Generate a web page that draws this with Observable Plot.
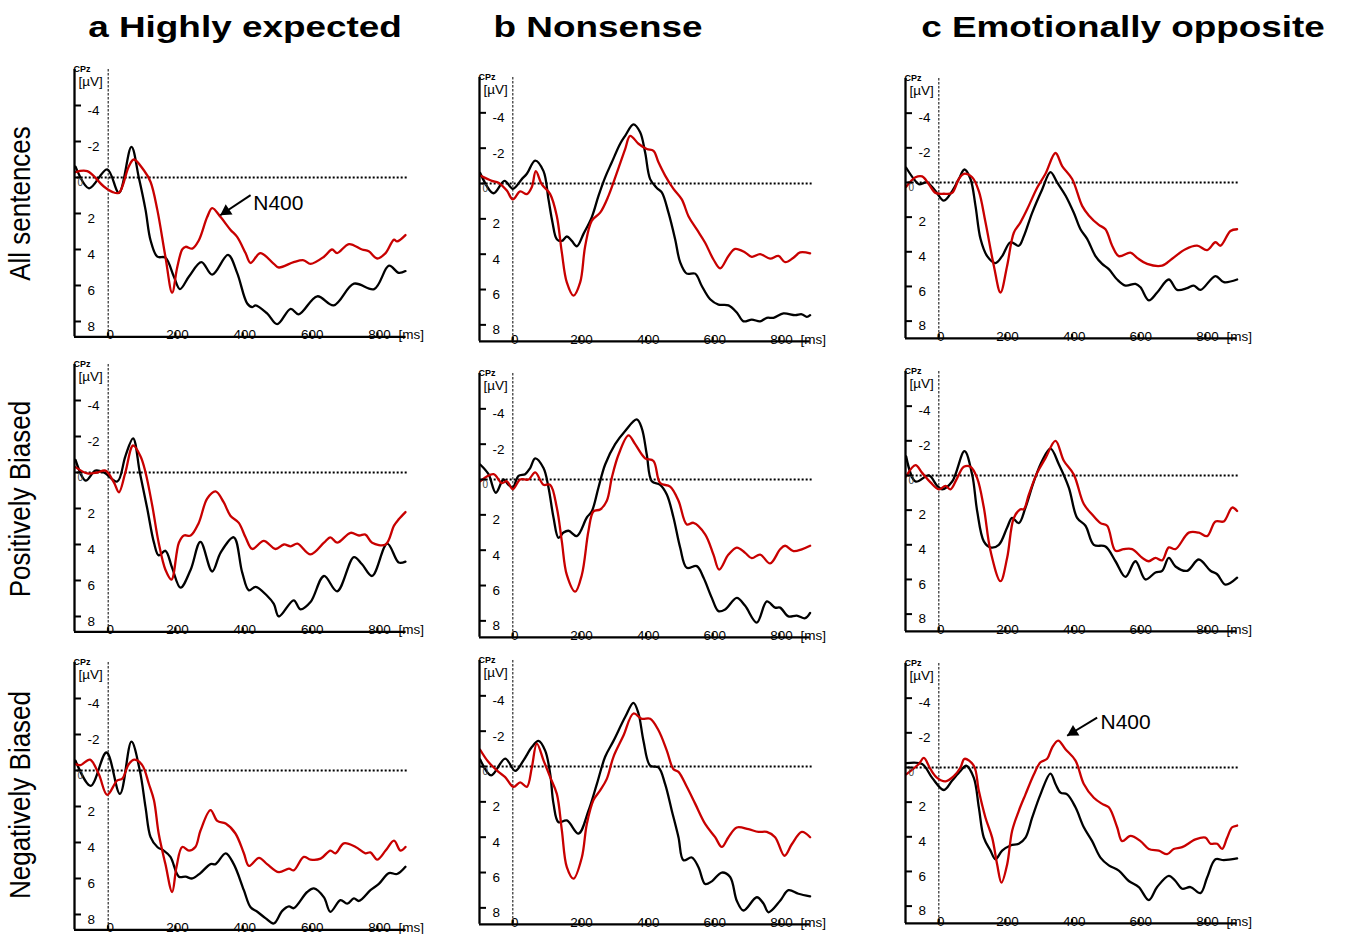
<!DOCTYPE html>
<html><head><meta charset="utf-8">
<script src="https://cdn.jsdelivr.net/npm/d3@7"></script>
<script src="https://cdn.jsdelivr.net/npm/@observablehq/plot@0.6"></script>
<style>
body{margin:0;background:#fff;}
#root{position:relative;width:1345px;height:934px;overflow:hidden;background:#fff;font-family:"Liberation Sans",Arial,sans-serif;}
#root svg{position:absolute;}
</style></head><body><div id="root"></div>
<script>
// ---------- text ----------
const columnTitles = ["a Highly expected", "b Nonsense", "c Emotionally opposite"];
const rowLabels = ["All sentences", "Positively Biased", "Negatively Biased"];
const yTicks = [-4, -2, 2, 4, 6, 8];
const xTicks = [0, 200, 400, 600, 800];
const annotationText = "N400";

// ---------- data: [time ms, amplitude µV] (CPz) ----------
// a) Highly expected
const a1Black = [[-97,-0.6],[-57,0.6],[-3,-0.45],[32,0.85],[69,-1.7],[91,0],[111,1.8],[126,3.5],[146,4.4],[170,4.45],[195,5.5],[213,6.2],[240,5.5],[277,4.7],[309,5.4],[356,4.3],[383,5.3],[413,7.0],[428,7.2],[438,7.1],[472,7.55],[502,8.15],[542,7.3],[566,7.6],[621,6.6],[670,7.1],[730,5.9],[790,6.2],[834,4.9],[863,5.3],[883,5.2]];
const a1Red = [[-97,-0.3],[-62,-0.35],[-13,0.5],[12,0.8],[32,0.85],[61,-0.6],[76,-1.0],[106,-0.4],[126,0.25],[146,1.8],[170,4.4],[190,6.4],[205,5.0],[220,4.0],[230,3.85],[250,3.95],[269,3.5],[294,2.2],[309,1.7],[334,2.2],[363,2.9],[383,3.3],[408,4.2],[423,4.75],[452,4.2],[492,4.8],[507,5.0],[551,4.7],[581,4.6],[601,4.8],[641,4.4],[665,4.0],[680,4.2],[715,3.7],[754,4.0],[774,4.1],[799,4.5],[824,4.2],[849,3.45],[858,3.55],[883,3.2]];
const a2Black = [[-97,-0.7],[-67,0.45],[-38,-0.1],[-13,0],[27,0.5],[51,-0.9],[74,-1.9],[94,0],[116,2.0],[136,3.9],[150,4.6],[170,4.35],[190,5.3],[215,6.4],[245,5.4],[274,3.85],[309,5.5],[334,4.45],[373,3.6],[398,5.55],[418,6.55],[438,6.35],[472,6.85],[492,7.3],[507,8.0],[551,7.1],[571,7.6],[601,7.2],[641,5.75],[680,6.6],[730,4.7],[754,5.1],[784,5.75],[829,3.95],[863,5.0],[883,4.95]];
const a2Red = [[-97,-0.3],[-62,0.05],[-33,0],[-8,-0.1],[17,0.55],[32,1.1],[51,0],[74,-1.5],[96,-0.9],[111,0],[131,1.85],[150,3.9],[170,5.4],[188,5.95],[210,3.9],[225,3.5],[245,3.5],[269,2.8],[294,1.45],[319,1.05],[343,1.65],[363,2.4],[388,2.8],[408,3.6],[428,4.25],[462,3.8],[497,4.25],[522,4.0],[542,4.1],[562,3.95],[601,4.55],[641,3.9],[660,3.6],[680,3.9],[720,3.35],[745,3.5],[764,3.45],[784,3.9],[824,4.0],[849,2.95],[863,2.6],[883,2.2]];
const a3Black = [[-97,-0.55],[-52,0.85],[-5,-1.0],[35,1.3],[69,-1.6],[94,0],[111,2.05],[126,3.7],[146,4.25],[165,4.45],[185,4.8],[210,5.9],[230,5.9],[250,6.0],[274,5.7],[304,5.2],[319,5.2],[349,4.6],[373,5.2],[403,6.65],[423,7.6],[443,7.85],[467,8.2],[492,8.5],[517,7.8],[537,7.55],[551,7.65],[591,6.75],[611,6.55],[641,7.05],[660,7.85],[690,7.2],[710,7.4],[730,7.1],[745,7.25],[779,6.65],[804,6.3],[834,5.7],[858,5.75],[883,5.35]];
const a3Red = [[-97,-0.35],[-82,-0.3],[-54,-0.6],[-28,0.2],[-3,1.35],[27,0.55],[42,0.45],[61,-0.35],[78,-0.6],[101,-0.3],[121,0.75],[136,1.65],[150,3.5],[170,5.2],[190,6.75],[203,5.35],[220,4.25],[240,4.45],[259,4.25],[274,3.35],[304,2.2],[324,2.8],[349,2.95],[378,3.5],[403,4.6],[418,5.3],[448,4.85],[472,5.2],[507,5.65],[537,5.45],[551,5.55],[581,4.8],[601,4.95],[631,4.9],[660,4.45],[675,4.6],[700,4.05],[735,4.25],[764,4.6],[779,4.55],[799,4.95],[824,4.45],[849,3.9],[868,4.45],[883,4.25]];
// b) Nonsense
const b1Black = [[-98,-0.6],[-58,0.55],[-25,-0.15],[0,0.3],[27,-0.25],[42,-0.55],[67,-1.3],[92,-0.7],[107,0.9],[119,2.2],[132,3.15],[147,3.25],[162,3.0],[177,3.25],[192,3.55],[212,2.85],[237,1.9],[257,0.7],[277,-0.35],[297,-1.2],[322,-2.25],[337,-2.7],[362,-3.35],[382,-2.9],[397,-1.75],[412,-0.25],[432,0.25],[447,0.5],[467,1.65],[487,3.15],[502,4.45],[522,5.1],[547,5.1],[567,5.8],[592,6.55],[617,6.85],[647,6.9],[672,7.3],[692,7.8],[717,7.7],[742,7.8],[762,7.6],[782,7.6],[812,7.35],[847,7.45],[867,7.4],[882,7.55],[892,7.45]];
const b1Red = [[-98,-0.45],[-63,-0.15],[-43,-0.05],[-18,0.4],[0,0.9],[22,0.45],[42,0.6],[57,0.2],[69,-0.7],[87,0.05],[112,0.6],[132,1.85],[147,3.9],[162,5.6],[182,6.35],[202,5.6],[217,3.55],[237,2.1],[262,1.65],[287,0.7],[312,-0.6],[337,-1.95],[352,-2.7],[377,-2.25],[402,-1.95],[422,-1.85],[437,-1.2],[457,-0.45],[482,0.3],[507,0.9],[527,1.85],[552,2.6],[577,3.35],[602,4.3],[622,4.8],[647,4.1],[667,3.7],[697,3.9],[717,4.15],[742,4.0],[772,4.25],[797,4.1],[817,4.45],[842,4.2],[862,3.9],[892,3.95]];
const b2Black = [[-98,-0.85],[-73,-0.3],[-51,0.75],[-28,0],[-13,0.3],[0,0.45],[17,-0.2],[37,-0.3],[52,-0.65],[67,-1.2],[92,-0.65],[107,0.45],[122,2.15],[137,3.3],[152,3.0],[167,2.9],[192,3.2],[222,2.15],[237,1.8],[257,0.45],[277,-0.85],[307,-2.0],[337,-2.75],[372,-3.4],[387,-2.9],[402,-1.4],[417,0.1],[442,0.3],[462,0.85],[482,2.15],[502,3.85],[522,5.0],[552,4.9],[572,5.55],[597,6.7],[617,7.45],[637,7.35],[672,6.7],[697,7.15],[732,8.1],[762,6.9],[787,7.25],[802,7.25],[827,7.75],[852,7.7],[877,7.85],[892,7.55]];
const b2Red = [[-98,0.1],[-58,-0.3],[-33,0.2],[-18,0.1],[0,0.55],[22,0],[47,0],[67,-0.4],[92,0.3],[112,0.3],[132,1.6],[147,3.5],[162,5.4],[187,6.35],[207,5.4],[227,2.9],[242,1.8],[262,1.7],[282,1.2],[297,-0.1],[317,-1.4],[347,-2.5],[367,-2.0],[397,-1.2],[422,-1.05],[442,0.2],[472,0.4],[497,1.2],[522,2.55],[542,2.45],[577,3.1],[602,4.25],[619,5.1],[647,4.25],[672,3.85],[697,4.15],[717,4.45],[742,4.25],[772,4.75],[802,3.95],[817,3.75],[842,4.05],[867,3.95],[892,3.75]];
const b3Black = [[-98,-0.4],[-65,0.5],[-23,-0.45],[7,0.25],[32,-0.35],[57,-1.1],[77,-1.45],[97,-0.9],[112,0.4],[122,2.1],[137,3.15],[162,3.05],[197,3.8],[227,2.5],[252,1.0],[277,-0.55],[302,-1.45],[337,-2.8],[362,-3.6],[377,-3.0],[392,-1.45],[412,-0.05],[437,0.05],[457,1.0],[477,2.5],[497,4.0],[512,5.3],[537,5.15],[557,5.7],[577,6.65],[597,6.5],[627,6.0],[652,6.25],[672,7.6],[692,8.15],[732,7.4],[752,7.75],[767,8.25],[802,7.6],[827,7.0],[857,7.2],[892,7.35]];
const b3Red = [[-98,-0.95],[-73,-0.25],[-43,0.3],[-23,0.6],[2,1.15],[22,0.9],[42,1.15],[57,0.05],[72,-1.3],[92,-0.35],[112,0.6],[132,1.55],[147,3.6],[162,5.7],[182,6.35],[207,5.15],[222,3.25],[242,1.9],[262,1.35],[282,0.7],[302,-0.55],[332,-1.75],[362,-3.0],[387,-2.7],[412,-2.7],[437,-2.05],[462,-0.9],[482,0.15],[497,0.3],[522,1.15],[547,2.1],[577,3.25],[607,4.0],[627,4.55],[647,4.0],[672,3.45],[707,3.55],[737,3.7],[762,3.7],[787,4.0],[815,5.05],[837,4.4],[867,3.7],[892,4.0]];
// c) Emotionally opposite
const c1Black = [[-98,-0.85],[-75,-0.2],[-60,0.1],[-35,0],[-10,0.5],[15,1.05],[40,0.5],[60,-0.2],[77,-0.75],[95,-0.2],[110,1.35],[125,3.25],[145,4.25],[170,4.65],[190,4.25],[215,3.45],[240,3.65],[255,3.1],[280,1.75],[310,0.4],[335,-0.6],[355,0],[380,0.75],[405,1.75],[425,2.7],[445,3.25],[470,4.25],[490,4.7],[510,5.0],[535,5.6],[560,5.95],[590,5.85],[605,6.05],[630,6.8],[655,6.35],[690,5.6],[715,6.2],[745,6.1],[765,5.95],[785,6.2],[830,5.4],[855,5.75],[895,5.6]];
const c1Red = [[-98,0.25],[-70,-0.3],[-50,-0.35],[-30,0.1],[-10,0.6],[15,0.65],[40,0.6],[60,-0.2],[75,-0.5],[100,-0.3],[120,0.5],[140,2.3],[165,4.8],[185,6.35],[205,4.8],[225,2.9],[245,2.3],[265,1.55],[295,0.3],[320,-0.5],[350,-1.7],[370,-0.95],[400,-0.2],[430,1.35],[450,1.9],[480,2.45],[500,2.7],[520,3.65],[540,4.25],[575,4.05],[595,4.35],[625,4.7],[670,4.8],[700,4.4],[740,3.85],[775,3.65],[805,3.9],[830,3.45],[845,3.65],[875,2.8],[895,2.7]];
const c2Black = [[-98,-1.1],[-70,0.35],[-30,0],[-5,0.6],[10,0.8],[40,0.35],[77,-1.4],[100,-0.05],[115,2.05],[135,3.8],[155,4.15],[180,4.0],[205,3.0],[220,2.45],[240,2.75],[260,1.85],[285,0.35],[310,-0.85],[335,-1.55],[360,-0.65],[390,0.7],[415,2.45],[440,2.9],[465,4.0],[500,4.1],[530,4.95],[560,5.85],[590,4.95],[620,6.0],[650,5.6],[670,5.5],[690,4.75],[710,5.25],[745,5.5],[780,4.85],[815,5.5],[835,5.7],[860,6.3],[895,5.9]];
const c2Red = [[-98,0.05],[-70,-0.6],[-50,-0.15],[-25,0.4],[0,0.8],[20,0.6],[35,0.8],[55,0.15],[75,-0.5],[95,-0.5],[115,0.15],[135,1.85],[155,4.35],[185,6.1],[205,4.75],[225,2.45],[245,1.95],[255,1.95],[270,1.1],[295,-0.15],[320,-1.0],[350,-2.0],[375,-0.85],[405,-0.05],[435,1.65],[460,2.25],[485,2.75],[505,2.9],[530,4.35],[555,4.25],[580,4.25],[610,4.75],[630,4.95],[650,4.75],[670,4.9],[690,4.15],[710,4.25],[750,3.3],[780,3.3],[805,3.5],[830,2.65],[855,2.65],[880,1.85],[895,2.05]];
const c3Black = [[-98,-0.25],[-50,-0.2],[-20,0.6],[15,1.3],[40,0.75],[65,0.2],[82,-0.1],[105,0.6],[120,2.3],[135,4.05],[155,4.8],[170,5.3],[190,4.8],[215,4.5],[240,4.4],[260,4.05],[280,2.9],[305,1.55],[335,0.35],[350,0.95],[365,1.45],[385,1.55],[410,2.3],[435,3.45],[460,4.25],[485,5.2],[510,5.65],[540,5.95],[570,6.55],[600,6.9],[630,7.65],[655,6.9],[690,6.25],[710,6.55],[730,7.0],[755,6.9],[785,7.25],[805,6.35],[830,5.3],[855,5.35],[895,5.25]];
const c3Red = [[-98,0.4],[-60,-0.2],[-45,-0.55],[-25,0.1],[-5,0.6],[20,0.8],[45,0.5],[65,0],[77,-0.5],[105,-0.1],[120,1.35],[140,2.9],[160,4.05],[175,5.6],[188,6.65],[205,5.6],[220,3.65],[240,2.5],[260,1.55],[285,0.4],[305,-0.3],[325,-0.5],[340,-1.15],[358,-1.55],[380,-1.05],[410,-0.4],[435,0.95],[465,1.75],[490,2.1],[510,2.3],[535,3.45],[550,4.25],[575,3.95],[605,4.25],[630,4.7],[660,4.8],[685,5.0],[705,4.7],[730,4.6],[770,4.15],[800,4.05],[815,4.4],[835,4.4],[850,4.7],[865,4.05],[880,3.45],[895,3.35]];

// N400 arrows: [tipTime, tipAmp, tailTime, tailAmp, labelTime, labelAmp]
const noteA1 = [333, 2.1, 423, 0.98, 431, 1.41];
const noteC3 = [385, -1.83, 475, -2.88, 485, -2.6];

// ---------- layout (pixels) ----------
const RED = "#c80000";
const FONT = "'Liberation Sans', Arial, Helvetica, sans-serif";
const colLayout = [
  {x0: 74,    pxPerMs: 0.3367, tEnd: 885, pxPerUV: 18.0,  vBottom: 8.85, tops: [69.3, 363.7, 662.0], titleX: 245},
  {x0: 479.4, pxPerMs: 0.3333, tEnd: 892, pxPerUV: 17.67, vBottom: 8.93, tops: [77.1, 372.7, 660.4], titleX: 598},
  {x0: 905,   pxPerMs: 0.3333, tEnd: 895, pxPerUV: 17.33, vBottom: 9.0,  tops: [77.9, 370.5, 662.9], titleX: 1123}
];
const rowCenters = [203.5, 499, 795];
const panels = [
  [{black: a1Black, red: a1Red, note: noteA1}, {black: b1Black, red: b1Red}, {black: c1Black, red: c1Red}],
  [{black: a2Black, red: a2Red}, {black: b2Black, red: b2Red}, {black: c2Black, red: c2Red}],
  [{black: a3Black, red: a3Red}, {black: b3Black, red: b3Red}, {black: c3Black, red: c3Red, note: noteC3}]
];

const root = document.getElementById("root");
const ML = 14, MR = 36, MT = 14, MB = 8;
const tStart = -100, vTop = -6;

function arrowMarks(note, cfg) {
  if (!note) return [];
  const [tx, ty, sx, sy, lx, ly] = note;
  // direction (pixels) tail -> tip
  const dxp = (tx - sx) * cfg.pxPerMs, dyp = (ty - sy) * cfg.pxPerUV;
  const len = Math.hypot(dxp, dyp), ux = dxp / len, uy = dyp / len;
  const rot = Math.atan2(ux, -uy) * 180 / Math.PI; // clockwise from "up"
  const back = 7;
  return [
    Plot.link([0], {x1: sx, y1: sy, x2: tx, y2: ty, stroke: "#000", strokeWidth: 2}),
    Plot.dot([0], {x: tx, y: ty, dx: -ux * back, dy: -uy * back, symbol: "triangle", r: 4.6, rotate: rot, fill: "#000", stroke: "none"}),
    Plot.text([annotationText], {x: lx, y: ly, text: d => d, textAnchor: "start", lineAnchor: "middle", fontSize: 21, fill: "#000"})
  ];
}

function panel(p, cfg, top) {
  const w = (cfg.tEnd - tStart) * cfg.pxPerMs;
  const h = (cfg.vBottom - vTop) * cfg.pxPerUV;
  const tickLen = 7 / cfg.pxPerMs;
  const svg = Plot.plot({
    width: ML + w + MR, height: MT + h + MB,
    marginLeft: ML, marginRight: MR, marginTop: MT, marginBottom: MB,
    x: {domain: [tStart, cfg.tEnd], axis: null},
    y: {domain: [vTop, cfg.vBottom], reverse: true, axis: null},
    style: {fontFamily: FONT, background: "transparent", overflow: "visible", color: "#000"},
    marks: [
      Plot.ruleX([0], {y1: vTop, y2: cfg.vBottom, stroke: "#000", strokeWidth: 1, strokeDasharray: "2.5,1.5"}),
      Plot.ruleY([0], {x1: tStart + 8, x2: cfg.tEnd + 6, stroke: "#000", strokeWidth: 2, strokeDasharray: "2,2"}),
      Plot.line(p.black, {x: d => d[0], y: d => d[1], stroke: "#000", strokeWidth: 2.3, curve: "catmull-rom"}),
      Plot.line(p.red, {x: d => d[0], y: d => d[1], stroke: RED, strokeWidth: 2.3, curve: "catmull-rom"}),
      Plot.ruleX([tStart], {y1: vTop, y2: cfg.vBottom, stroke: "#000", strokeWidth: 2.3}),
      Plot.ruleY([cfg.vBottom], {x1: tStart, x2: cfg.tEnd, stroke: "#000", strokeWidth: 2.3}),
      Plot.ruleY(yTicks.concat([0]), {x1: tStart, x2: tStart + tickLen, stroke: "#000", strokeWidth: 2}),
      Plot.text(yTicks, {x: tStart, y: d => d, text: d => String(d), dx: 13, dy: 5, textAnchor: "start", lineAnchor: "middle", fontSize: 13.5, fill: "#000"}),
      Plot.text(["0"], {x: tStart, y: 0, text: d => d, dx: 3, dy: 5, textAnchor: "start", lineAnchor: "middle", fontSize: 10, fill: "#444"}),
      Plot.ruleX(xTicks, {y1: cfg.vBottom, y2: cfg.vBottom - 4 / cfg.pxPerUV, stroke: "#000", strokeWidth: 2}),
      Plot.text(xTicks, {x: d => d, y: cfg.vBottom, text: d => String(d), dx: 2, dy: -2, textAnchor: "middle", lineAnchor: "middle", fontSize: 13.5, fill: "#000"}),
      Plot.text(["[ms]"], {x: 800, y: cfg.vBottom, text: d => d, dx: 21, dy: -2, textAnchor: "start", lineAnchor: "middle", fontSize: 13.5, fill: "#000"}),
      Plot.text(["[µV]"], {x: tStart, y: vTop, text: d => d, dx: 4, dy: 12, textAnchor: "start", lineAnchor: "middle", fontSize: 13.5, fill: "#000"}),
      Plot.text(["CPz"], {x: tStart, y: vTop, text: d => d, dx: -1, dy: 0, textAnchor: "start", lineAnchor: "middle", fontSize: 9, fontWeight: "bold", fill: "#000"}),
      ...arrowMarks(p.note, cfg)
    ]
  });
  svg.style.left = (cfg.x0 - ML) + "px";
  svg.style.top = (top - MT) + "px";
  svg.style.maxWidth = "none";
  root.appendChild(svg);
}

panels.forEach((row, r) => row.forEach((p, c) => panel(p, colLayout[c], colLayout[c].tops[r])));

// titles and row labels
const ns = "http://www.w3.org/2000/svg";
const over = document.createElementNS(ns, "svg");
over.setAttribute("width", 1345); over.setAttribute("height", 934);
over.style.left = "0px"; over.style.top = "0px"; over.style.pointerEvents = "none";
over.style.fontFamily = FONT;
columnTitles.forEach((t, i) => {
  const el = document.createElementNS(ns, "text");
  el.setAttribute("transform", `translate(${colLayout[i].titleX},37) scale(1.23,1)`);
  el.setAttribute("text-anchor", "middle");
  el.setAttribute("font-size", 30);
  el.setAttribute("font-weight", "bold");
  el.textContent = t;
  over.appendChild(el);
});
rowLabels.forEach((t, i) => {
  const el = document.createElementNS(ns, "text");
  el.setAttribute("transform", `translate(30,${rowCenters[i]}) rotate(-90) scale(1,1.12)`);
  el.setAttribute("text-anchor", "middle");
  el.setAttribute("font-size", 26);
  el.textContent = t;
  over.appendChild(el);
});
root.appendChild(over);
</script>
</body></html>
